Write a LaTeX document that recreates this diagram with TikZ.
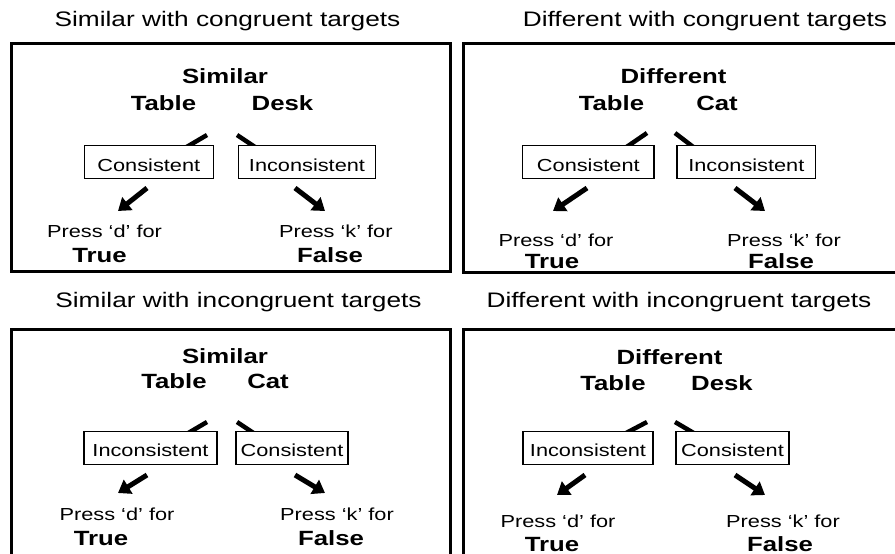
\documentclass[tikz,border=0pt]{standalone}
\usepackage{fontspec}
\setmainfont[FakeStretch=1.25]{Liberation Sans}
\usetikzlibrary{arrows.meta}
\begin{document}
\begin{tikzpicture}[x=1pt,y=-1pt,
  panel/.style={draw, line width=3pt},
  ttl/.style={anchor=base, inner sep=0pt, font=\fontsize{21}{25}\selectfont},
  big/.style={anchor=base, inner sep=0pt, font=\fontsize{20.6}{24}\selectfont\bfseries},
  small/.style={anchor=base, inner sep=0pt, font=\fontsize{17.4}{21}\selectfont},
  cbox/.style={draw, line width=1.2pt, fill=white, inner sep=0pt, minimum height=32.4pt,
    text height=18pt, text depth=0pt, font=\fontsize{17.4}{21}\selectfont},
  stub/.style={line width=4.5pt},
  bigarrow/.style={line width=5pt, -{Triangle[length=12pt,width=16pt]}},
]
\clip (0,0) rectangle (895,554);
\fill[white] (0,0) rectangle (895,554);

% ---------- titles ----------
\node[ttl] (t1) at (227.5,27) {Similar with congruent targets};
\node[ttl] (t2) at (705,27) {Different with congruent targets};
\node[ttl] (t3) at (238.5,307) {Similar with incongruent targets};
\node[ttl] (t4) at (679,307) {Different with incongruent targets};

% ---------- panels ----------
\draw[panel] (11.5,43.5) rectangle (450.5,271.5);
\draw[panel] (463.5,43.5) rectangle (910,272.5);
\draw[panel] (11.5,329.5) rectangle (450.5,570);
\draw[panel] (463.5,329.5) rectangle (910,570);

% ================= panel 1 =================
\node[big] (s1) at (225,83) {Similar};
\node[big] (a1) at (163.5,110) {Table};
\node[big] (b1) at (282.5,110) {Desk};
\coordinate (l1s) at (207,135); \coordinate (l1e) at (181.5,150);
\coordinate (r1s) at (237,135); \coordinate (r1e) at (259.5,150);
\draw[stub] (l1s) -- (l1e);
\draw[stub] (r1s) -- (r1e);
\node[cbox, minimum width=129pt] (c1) at (148.8,162) {Consistent};
\node[cbox, minimum width=137.4pt] (i1) at (307,162) {Inconsistent};
\coordinate (d1s) at (147,188); \coordinate (d1e) at (118,211);
\coordinate (k1s) at (295,188); \coordinate (k1e) at (325,211);
\draw[bigarrow] (d1s) -- (d1e);
\draw[bigarrow] (k1s) -- (k1e);
\node[small] (pd1) at (104.5,237) {Press ‘d’ for};
\node[big] (tr1) at (99.5,262) {True};
\node[small] (pk1) at (335.8,237) {Press ‘k’ for};
\node[big] (fa1) at (330,262) {False};

% ================= panel 2 =================
\node[big] (s2) at (673.5,83) {Different};
\node[big] (a2) at (611.5,110) {Table};
\node[big] (b2) at (717,110) {Cat};
\coordinate (l2s) at (647,133); \coordinate (l2e) at (620.7,151);
\coordinate (r2s) at (675,133); \coordinate (r2e) at (698.5,151);
\draw[stub] (l2s) -- (l2e);
\draw[stub] (r2s) -- (r2e);
\node[cbox, minimum width=131.3pt] (c2) at (588.35,162) {Consistent};
\node[cbox, minimum width=138.7pt] (i2) at (746.35,162) {Inconsistent};
\coordinate (d2s) at (587,188); \coordinate (d2e) at (553,211);
\coordinate (k2s) at (735,188); \coordinate (k2e) at (765,211);
\draw[bigarrow] (d2s) -- (d2e);
\draw[bigarrow] (k2s) -- (k2e);
\node[small] (pd2) at (556,246) {Press ‘d’ for};
\node[big] (tr2) at (552,268) {True};
\node[small] (pk2) at (784,246) {Press ‘k’ for};
\node[big] (fa2) at (781,268) {False};

% ================= panel 3 =================
\node[big] (s3) at (225,363) {Similar};
\node[big] (a3) at (174,388) {Table};
\node[big] (b3) at (268,388) {Cat};
\coordinate (l3s) at (207,422); \coordinate (l3e) at (181.5,437);
\coordinate (r3s) at (237,422); \coordinate (r3e) at (259.5,437);
\draw[stub] (l3s) -- (l3e);
\draw[stub] (r3s) -- (r3e);
\node[cbox, minimum width=133pt] (i3) at (150.5,447.9) {Inconsistent};
\node[cbox, minimum width=112pt] (c3) at (292,447.9) {Consistent};
\coordinate (d3s) at (147,475); \coordinate (d3e) at (118,493);
\coordinate (k3s) at (295,475); \coordinate (k3e) at (325,493);
\draw[bigarrow] (d3s) -- (d3e);
\draw[bigarrow] (k3s) -- (k3e);
\node[small] (pd3) at (117,520) {Press ‘d’ for};
\node[big] (tr3) at (101,545) {True};
\node[small] (pk3) at (337,520) {Press ‘k’ for};
\node[big] (fa3) at (331,545) {False};

% ================= panel 4 =================
\node[big] (s4) at (669.5,364) {Different};
\node[big] (a4) at (613,390.7) {Table};
\node[big] (b4) at (722,390.7) {Desk};
\coordinate (l4s) at (647,422); \coordinate (l4e) at (618.5,437);
\coordinate (r4s) at (675,422); \coordinate (r4e) at (700.5,437);
\draw[stub] (l4s) -- (l4e);
\draw[stub] (r4s) -- (r4e);
\node[cbox, minimum width=130pt] (i4) at (588,447.9) {Inconsistent};
\node[cbox, minimum width=113pt] (c4) at (732.5,447.9) {Consistent};
\coordinate (d4s) at (585,475); \coordinate (d4e) at (557,495);
\coordinate (k4s) at (735,475); \coordinate (k4e) at (765,495);
\draw[bigarrow] (d4s) -- (d4e);
\draw[bigarrow] (k4s) -- (k4e);
\node[small] (pd4) at (558,527) {Press ‘d’ for};
\node[big] (tr4) at (552,551) {True};
\node[small] (pk4) at (783,527) {Press ‘k’ for};
\node[big] (fa4) at (780,551) {False};
\end{tikzpicture}
\end{document}
